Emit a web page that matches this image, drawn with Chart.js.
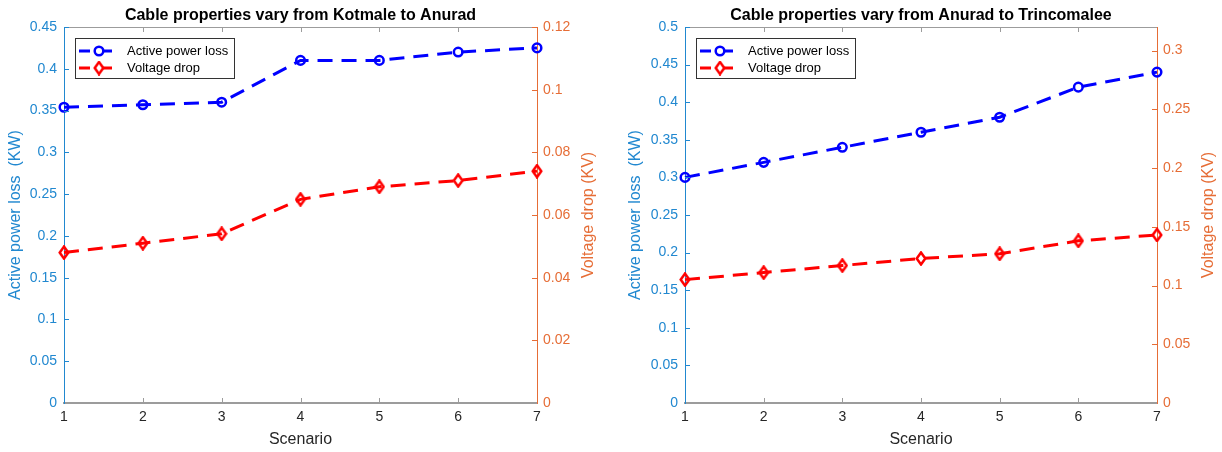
<!DOCTYPE html>
<html>
<head>
<meta charset="utf-8">
<script src="https://cdn.jsdelivr.net/npm/chart.js@4.4.1/dist/chart.umd.min.js"></script>
<style>
  html, body { margin: 0; padding: 0; background: #fff; }
  .wrap { position: absolute; top: 0; height: 452px; }
  #w1 { left: 0; width: 601px; }
  #w2 { left: 620px; width: 602px; }
</style>
</head>
<body>
<div class="wrap" id="w1"><canvas id="c1"></canvas></div>
<div class="wrap" id="w2"><canvas id="c2"></canvas></div>
<script>
var scenarios = ['1', '2', '3', '4', '5', '6', '7'];

// Kotmale -> Anurad
var lossKotmale = [0.354, 0.357, 0.36, 0.41, 0.41, 0.42, 0.425];
var dropKotmale = [0.048, 0.051, 0.054, 0.065, 0.069, 0.071, 0.074];
// Anurad -> Trincomalee
var lossAnurad = [0.30, 0.32, 0.34, 0.36, 0.38, 0.42, 0.44];
var dropAnurad = [0.105, 0.111, 0.117, 0.123, 0.127, 0.138, 0.143];

var lossTicks1 = [0, 0.05, 0.1, 0.15, 0.2, 0.25, 0.3, 0.35, 0.4, 0.45];
var dropTicks1 = [0, 0.02, 0.04, 0.06, 0.08, 0.1, 0.12];
var lossTicks2 = [0, 0.05, 0.1, 0.15, 0.2, 0.25, 0.3, 0.35, 0.4, 0.45, 0.5];
var dropTicks2 = [0, 0.05, 0.1, 0.15, 0.2, 0.25, 0.3];

var FONT = "'Liberation Sans', Arial, sans-serif";
var BLUE_AXIS = '#2188d0';
var ORANGE_AXIS = '#e66d36';
var GRAY = '#9c9c9c';
var TEXT = '#262626';

Chart.defaults.font.family = FONT;
Chart.defaults.animation = false;

function diamond() {
  var c = document.createElement('canvas');
  c.width = 12; c.height = 15;
  var g = c.getContext('2d');
  g.strokeStyle = '#ff0000';
  g.lineWidth = 2.5;
  g.beginPath();
  g.moveTo(6, 1.5); g.lineTo(10.3, 7.5); g.lineTo(6, 13.5); g.lineTo(1.7, 7.5);
  g.closePath();
  g.stroke();
  return c;
}
var diamondMark = diamond();

function fmt(v) { return String(parseFloat(Number(v).toFixed(4))); }

// inward ticks, top box line, legend box and right axis title
var decorations = {
  id: 'decorations',
  afterDraw: function (chart) {
    var ctx = chart.ctx, a = chart.chartArea;
    var xs = chart.scales.x, ys = chart.scales.y, y1 = chart.scales.y1;
    var o = chart.options.plugins.decorations;
    ctx.save();

    ctx.strokeStyle = GRAY;
    ctx.lineWidth = 1;
    ctx.beginPath();
    ctx.moveTo(a.left, a.top + 0.5); ctx.lineTo(a.right, a.top + 0.5);
    for (var i = 1; i < xs.ticks.length - 1; i++) {
      var px = Math.round(xs.getPixelForTick(i)) + 0.5;
      ctx.moveTo(px, a.bottom); ctx.lineTo(px, a.bottom - 5);
      ctx.moveTo(px, a.top); ctx.lineTo(px, a.top + 5);
    }
    ctx.stroke();

    ctx.strokeStyle = BLUE_AXIS;
    ctx.beginPath();
    for (i = 1; i < ys.ticks.length; i++) {
      var py = Math.round(ys.getPixelForTick(i)) + 0.5;
      ctx.moveTo(a.left, py); ctx.lineTo(a.left + 5, py);
    }
    ctx.stroke();

    ctx.strokeStyle = ORANGE_AXIS;
    ctx.beginPath();
    for (i = 1; i < y1.ticks.length; i++) {
      py = Math.round(y1.getPixelForTick(i)) + 0.5;
      ctx.moveTo(a.right, py); ctx.lineTo(a.right - 5, py);
    }
    ctx.stroke();

    // right axis title, reads bottom to top
    ctx.translate(a.right + 52, (a.top + a.bottom) / 2);
    ctx.rotate(-Math.PI / 2);
    ctx.font = '16px ' + FONT;
    ctx.fillStyle = ORANGE_AXIS;
    ctx.textAlign = 'center';
    ctx.textBaseline = 'middle';
    ctx.fillText(o.rightTitle, 0, 0);
    ctx.setTransform(1, 0, 0, 1, 0, 0);
    ctx.restore();

    // legend
    ctx.save();
    var bx = Math.round(a.left) + 11, by = Math.round(a.top) + 11, bw = 159, bh = 40;
    ctx.fillStyle = '#fff';
    ctx.fillRect(bx, by, bw, bh);
    ctx.strokeStyle = '#333';
    ctx.lineWidth = 1;
    ctx.strokeRect(bx + 0.5, by + 0.5, bw, bh);
    chart.data.datasets.forEach(function (ds, k) {
      var cy = by + 13 + k * 17;
      ctx.strokeStyle = ds.borderColor;
      ctx.lineWidth = 3;
      ctx.beginPath();
      ctx.moveTo(bx + 4, cy); ctx.lineTo(bx + 15, cy);
      ctx.moveTo(bx + 20, cy); ctx.lineTo(bx + 37, cy);
      ctx.stroke();
      if (ds.pointStyle === 'circle') {
        ctx.fillStyle = '#fff';
        ctx.lineWidth = 2.5;
        ctx.beginPath();
        ctx.arc(bx + 24, cy, 4.3, 0, Math.PI * 2);
        ctx.fill();
        ctx.stroke();
      } else {
        ctx.fillStyle = '#fff';
        ctx.beginPath();
        ctx.moveTo(bx + 24, cy - 5); ctx.lineTo(bx + 28, cy); ctx.lineTo(bx + 24, cy + 5); ctx.lineTo(bx + 20, cy);
        ctx.fill();
        ctx.drawImage(ds.pointStyle, bx + 24 - 6, cy - 7.5);
      }
      ctx.fillStyle = '#000';
      ctx.font = '13px ' + FONT;
      ctx.textAlign = 'left';
      ctx.textBaseline = 'middle';
      ctx.fillText(ds.label, bx + 52, cy + 0.5);
    });
    ctx.restore();
  }
};

function makeChart(id, title, loss, drop, lossMax, lossTicks, dropMax, dropTicks, leftW, rightW) {
  var ctx = document.getElementById(id).getContext('2d');
  return new Chart(ctx, {
    type: 'line',
    data: {
      labels: scenarios,
      datasets: [{
        label: 'Active power loss',
        data: loss,
        yAxisID: 'y',
        borderColor: '#0000ff',
        borderWidth: 3,
        borderDash: [15, 9],
        pointStyle: 'circle',
        pointRadius: 4.3,
        pointBorderWidth: 2.5,
        pointBorderColor: '#0000ff',
        pointBackgroundColor: 'rgba(0,0,0,0)',
        tension: 0,
        clip: false
      }, {
        label: 'Voltage drop',
        data: drop,
        yAxisID: 'y1',
        borderColor: '#ff0000',
        borderWidth: 3,
        borderDash: [15, 9],
        pointStyle: diamondMark,
        pointRadius: 6,
        tension: 0,
        clip: false
      }]
    },
    options: {
      responsive: true,
      maintainAspectRatio: false,
      events: [],
      layout: { padding: 0 },
      plugins: {
        legend: { display: false },
        tooltip: { enabled: false },
        title: {
          display: true,
          text: title,
          color: '#000',
          font: { size: 16, weight: 'bold' },
          padding: { top: 6, bottom: 1.8 }
        },
        decorations: { rightTitle: 'Voltage drop (KV)' }
      },
      scales: {
        x: {
          offset: false,
          grid: { display: true, drawOnChartArea: false, drawTicks: false },
          border: { color: GRAY, width: 2 },
          ticks: { color: TEXT, font: { size: 14 }, padding: 6, maxRotation: 0, autoSkip: false },
          title: { display: true, text: 'Scenario', color: TEXT, font: { size: 16 }, padding: { top: 0, bottom: 2.4 } },
          afterFit: function (s) { s.height = 49; }
        },
        y: {
          position: 'left',
          min: 0,
          max: lossMax,
          grid: { display: true, drawOnChartArea: false, drawTicks: false },
          border: { color: BLUE_AXIS, width: 1 },
          ticks: { color: BLUE_AXIS, font: { size: 14 }, padding: 7, callback: fmt },
          afterBuildTicks: function (s) { s.ticks = lossTicks.map(function (v) { return { value: v }; }); },
          title: { display: true, text: 'Active power loss  (KW)', color: BLUE_AXIS, font: { size: 16 }, padding: { top: 5.8, bottom: 0 } },
          afterFit: function (s) { s.width = leftW; }
        },
        y1: {
          position: 'right',
          min: 0,
          max: dropMax,
          grid: { display: true, drawOnChartArea: false, drawTicks: false },
          border: { color: ORANGE_AXIS, width: 1 },
          ticks: { color: ORANGE_AXIS, font: { size: 14 }, padding: 6, callback: fmt },
          afterBuildTicks: function (s) { s.ticks = dropTicks.map(function (v) { return { value: v }; }); },
          afterFit: function (s) { s.width = rightW; }
        }
      }
    },
    plugins: [decorations]
  });
}

makeChart('c1', 'Cable properties vary from Kotmale to Anurad',
  lossKotmale, dropKotmale, 0.45, lossTicks1, 0.12, dropTicks1, 64, 64);
makeChart('c2', 'Cable properties vary from Anurad to Trincomalee',
  lossAnurad, dropAnurad, 0.5, lossTicks2, 0.32, dropTicks2, 65, 65);
</script>
</body>
</html>
